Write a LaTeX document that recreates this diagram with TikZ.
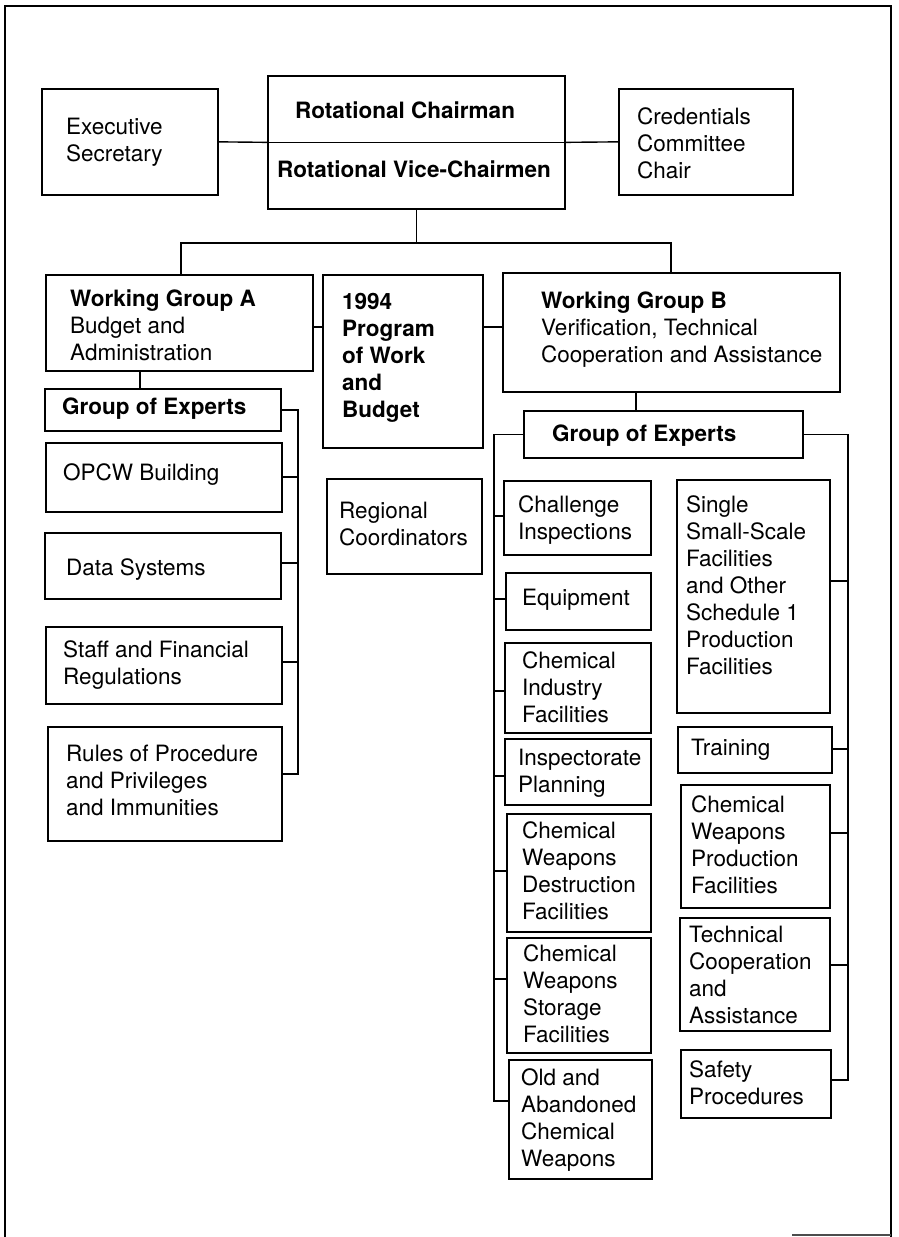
\documentclass[tikz,border=0pt]{standalone}
\usepackage{fontspec}
\setmainfont{TeX Gyre Heros}

\tikzset{
  orgrect/.style={draw, rectangle, line width=1.7pt, inner sep=0pt},
  orgtext/.style={inner sep=0pt, align=left, anchor=north west,
    font=\fontsize{22.5}{27}\selectfont},
  conn/.style={line width=1.4pt},
  frame/.style={line width=2.2pt}
}

% box from (x1,y1) to (x2,y2); text block starts at x = tx, first baseline at y = ty
\newcommand\orgbox[8]{%
  \pgfmathsetlengthmacro\obw{(#4-#2)*1pt}%
  \pgfmathsetlengthmacro\obh{(#5-#3)*1pt}%
  \node[orgrect, minimum width=\obw, minimum height=\obh, anchor=north west] (#1) at (#2,#3) {};%
  \node[orgtext] (#1-text) at (#6,#7-20) {\rule{0pt}{20pt}#8};%
}
% short horizontal tap from a bus at x to a box side, at height y
\newcommand\tapE[3]{\coordinate (tp) at (#2,#3); \draw[conn] (tp) -- (tp -| #1.east);}
\newcommand\tapW[3]{\coordinate (tp) at (#2,#3); \draw[conn] (tp) -- (tp -| #1.west);}

\begin{document}
\begin{tikzpicture}[x=1pt, y=-1pt]
\useasboundingbox (0,0) rectangle (898,1237);

% outer frame
\draw[frame] (5,1237) -- (5,6) -- (891,6) -- (891,1237);
\draw[line width=1.4pt, black!70] (792,1235) -- (891,1235);

% top level
\orgbox{exec}{41}{88}{217}{194}{66}{134}{Executive\\Secretary}
\orgbox{cred}{618}{88}{792}{194}{637}{124}{Credentials\\Committee\\Chair}
\pgfmathsetlengthmacro\obw{297pt}\pgfmathsetlengthmacro\obh{133pt}
\node[orgrect, minimum width=\obw, minimum height=\obh, anchor=north west] (rot) at (267,75) {};
\node[font=\fontsize{22.5}{27}\selectfont\bfseries, inner sep=0pt, anchor=base west] (rot-chair) at (295,118) {Rotational Chairman};
\node[font=\fontsize{22.5}{27}\selectfont\bfseries, inner sep=0pt, anchor=base west] (rot-vice) at (277,177) {Rotational Vice-Chairmen};

% working groups
\orgbox{wga}{45}{274}{312}{370}{70}{306}{\textbf{Working Group A}\\Budget and\\Administration}
\orgbox{prog}{322}{274}{482}{447}{342}{309}{\textbf{1994}\\\textbf{Program}\\\textbf{of Work}\\\textbf{and}\\\textbf{Budget}}
\orgbox{wgb}{502}{272}{839}{391}{541}{308}{\textbf{Working Group B}\\Verification, Technical\\Cooperation and Assistance}
\orgbox{regc}{326}{478}{481}{573}{339}{518}{Regional\\Coordinators}

% group of experts A
\orgbox{gea}{44}{388}{280}{430}{62}{414}{\textbf{Group of Experts}}
\orgbox{opcw}{45}{442}{281}{511}{63}{480}{OPCW Building}
\orgbox{data}{44}{532}{280}{598}{66}{575}{Data Systems}
\orgbox{staff}{45}{626}{281}{703}{63}{657}{Staff and Financial\\Regulations}
\orgbox{rules}{47}{726}{281}{840}{66}{761}{Rules of Procedure\\and Privileges\\and Immunities}

% group of experts B
\orgbox{gob}{523}{410}{802}{457}{552}{441}{\textbf{Group of Experts}}
\orgbox{chal}{503}{480}{650}{554}{518}{512}{Challenge\\Inspections}
\orgbox{equip}{505}{572}{650}{629}{522}{605}{Equipment}
\orgbox{chind}{504}{642}{650}{732}{522}{668}{Chemical\\Industry\\Facilities}
\orgbox{insp}{504}{738}{650}{804}{518}{765}{Inspectorate\\Planning}
\orgbox{dest}{506}{813}{650}{931}{522}{838}{Chemical\\Weapons\\Destruction\\Facilities}
\orgbox{stor}{506}{937}{650}{1052}{523}{961}{Chemical\\Weapons\\Storage\\Facilities}
\orgbox{old}{508}{1059}{651}{1178}{521}{1085}{Old and\\Abandoned\\Chemical\\Weapons}
\orgbox{single}{676}{479}{829}{712}{686}{512}{Single\\Small-Scale\\Facilities\\and Other\\Schedule 1\\Production\\Facilities}
\orgbox{train}{677}{726}{831}{772}{691}{755}{Training}
\orgbox{prod}{680}{784}{829}{907}{691}{812}{Chemical\\Weapons\\Production\\Facilities}
\orgbox{tech}{679}{917}{829}{1030}{689}{942}{Technical\\Cooperation\\and\\Assistance}
\orgbox{safety}{680}{1049}{830}{1117}{689}{1077}{Safety\\Procedures}

% connectors: top level
\draw[conn] (exec.east) -- (rot.west);
\draw[conn] (rot.west) -- (rot.east);
\draw[conn] (rot.east) -- (cred.west);
\coordinate (hubL) at (181,243);
\coordinate (hubR) at (671,243);
\draw[conn] (rot.south) -- (rot.south |- hubL);
\draw[conn] (wga.north -| hubL) -- (hubL) -- (hubR) -- (wgb.north -| hubR);

% connectors: working groups
\coordinate (yWG) at (0,327);
\draw[conn] (wga.east |- yWG) -- (prog.west |- yWG);
\draw[conn] (prog.east |- yWG) -- (wgb.west |- yWG);
\coordinate (xA) at (140,0);
\draw[conn] (wga.south -| xA) -- (gea.north -| xA);
\coordinate (xB) at (636,0);
\draw[conn] (wgb.south -| xB) -- (gob.north -| xB);

% bus of group A
\coordinate (endA) at (298,774);
\draw[conn] (gea.east) -| (endA) -- (endA -| rules.east);
\tapE{opcw}{298}{477}
\tapE{data}{298}{563}
\tapE{staff}{298}{662}

% left bus of group B
\coordinate (endBL) at (494,1101);
\draw[conn] (gob.west) -| (endBL) -- (endBL -| old.west);
\tapW{chal}{494}{516}
\tapW{equip}{494}{599}
\tapW{chind}{494}{691}
\tapW{insp}{494}{776}
\tapW{dest}{494}{871}
\tapW{stor}{494}{979}

% right bus of group B
\coordinate (endBR) at (848,1080);
\draw[conn] (gob.east) -| (endBR) -- (endBR -| safety.east);
\tapE{single}{848}{581}
\tapE{train}{848}{749}
\tapE{prod}{848}{833}
\tapE{tech}{848}{965}

\end{tikzpicture}
\end{document}
